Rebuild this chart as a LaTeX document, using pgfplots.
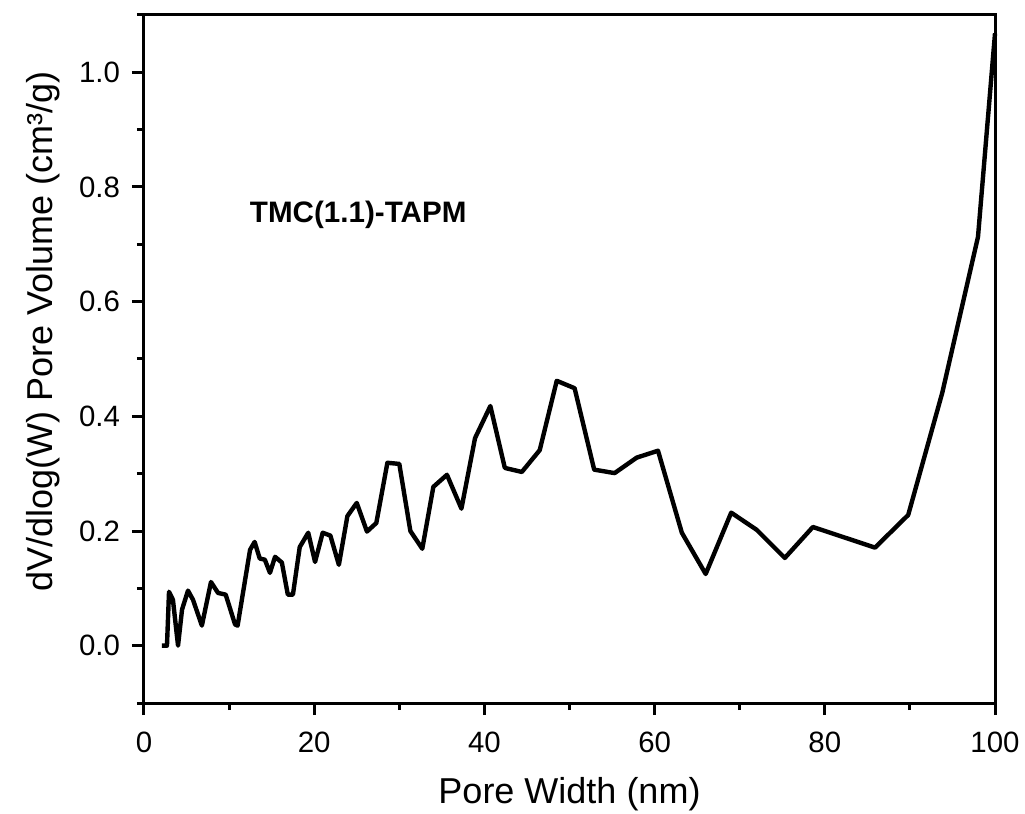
\documentclass[border=0pt]{standalone}
\usepackage{pgfplots}
\pgfplotsset{compat=1.18}
\usepackage{fontspec}
\setmainfont{Liberation Sans}
\begin{document}
\begin{tikzpicture}
\begin{axis}[
  name=ax,
  scale only axis,
  width=425.5pt, height=344pt,
  xmin=0, xmax=100, ymin=-0.1, ymax=1.1,
  axis line style={line width=1.5pt},
  every tick/.style={black, line width=1.5pt},
  tick align=outside,
  xtick pos=bottom, ytick pos=left,
  major tick length=6pt, minor tick length=3.5pt,
  xtick={0,20,...,100},
  minor xtick={10,30,50,70,90},
  ytick={0,0.2,...,1.0},
  minor ytick={-0.1,0.1,0.3,0.5,0.7,0.9,1.1},
  yticklabel style={xshift=-2.5pt, /pgf/number format/.cd, fixed, fixed zerofill, precision=1},
  /pgf/number format/assume math mode=true,
  tick label style={font=\fontsize{14.7}{16}\selectfont},
  xticklabel style={yshift=-5pt},
  label style={font=\fontsize{18}{20}\selectfont},
  xlabel={Pore Width (nm)},
  xlabel style={at={(axis description cs:0.5,0)}, anchor=north, yshift=-37pt, inner sep=0pt},
  ylabel={dV/dlog(W) Pore Volume (cm³/g)},
  ylabel style={at={(axis description cs:-0.0987,0.54)}, anchor=south, inner sep=0pt},
  clip=false,
]
\addplot[black, line width=2.2pt, line join=round] coordinates {
(2.1,0.0)(2.7,0.0)(2.94,0.094)(3.4,0.080)(4.0,0.0)(4.47,0.063)(5.17,0.096)
(5.76,0.080)(6.8,0.035)(7.87,0.111)(8.7,0.092)(9.6,0.089)(10.7,0.037)
(11.0,0.035)(12.46,0.167)(13.0,0.181)(13.6,0.152)(14.2,0.150)(14.8,0.127)
(15.4,0.155)(16.2,0.145)(16.9,0.089)(17.5,0.089)(18.3,0.172)(19.3,0.197)
(20.1,0.146)(21.0,0.197)(21.9,0.192)(22.9,0.141)(23.9,0.226)(25.0,0.249)
(26.2,0.199)(27.3,0.214)(28.6,0.319)(30.0,0.317)(31.3,0.200)(32.7,0.169)
(34.0,0.277)(35.6,0.298)(37.3,0.239)(38.9,0.362)(40.7,0.418)(42.4,0.310)
(44.4,0.303)(46.5,0.341)(48.5,0.462)(50.6,0.449)(52.9,0.307)(55.3,0.301)
(57.9,0.328)(60.4,0.340)(63.2,0.197)(66.0,0.125)(69.0,0.232)(72.0,0.202)
(75.3,0.153)(78.6,0.207)(85.9,0.171)(89.8,0.228)(93.8,0.441)(98.0,0.713)
(100.0,1.068)
};
\node[anchor=west, font=\bfseries\fontsize{14.8}{16}\selectfont, inner sep=0pt] at (axis cs:12.4,0.751) {TMC(1.1)-TAPM};
\end{axis}
\pgfresetboundingbox
\path ([shift={(-72pt,-55pt)}]ax.south west) rectangle ([shift={(15pt,7.5pt)}]ax.north east);
\end{tikzpicture}
\end{document}
